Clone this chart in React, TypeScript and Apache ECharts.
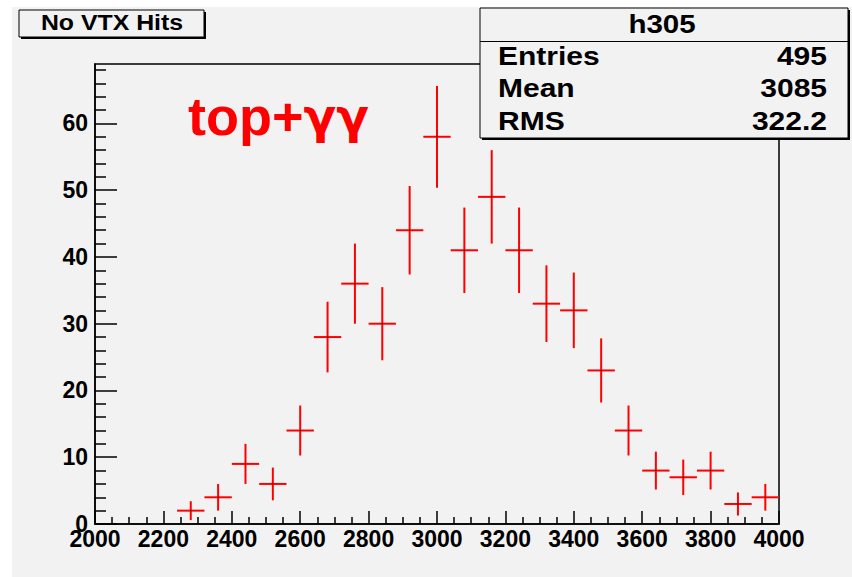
import React, { useEffect, useRef } from "react";
import * as echarts from "echarts";

// Histogram h305: bin centres, counts and their statistical errors
const binCenters = [
  2280, 2360, 2440, 2520, 2600, 2680, 2760, 2840, 2920, 3000, 3080,
  3160, 3240, 3320, 3400, 3480, 3560, 3640, 3720, 3800, 3880, 3960,
];
const counts = [2, 4, 9, 6, 14, 28, 36, 30, 44, 58, 41, 49, 41, 33, 32, 23, 14, 8, 7, 8, 3, 4];
const errors = [
  1.41, 2.0, 3.0, 2.45, 3.74, 5.29, 6.0, 5.48, 6.63, 7.62, 6.4,
  7.0, 6.4, 5.74, 5.66, 4.8, 3.74, 2.83, 2.65, 2.83, 1.73, 2.0,
];
const binWidth = 80;

const xMin = 2000;
const xMax = 4000;
const yMax = 68.9;
const yMajorTicks = [0, 10, 20, 30, 40, 50, 60];
const yMinorTicks = [2, 4, 6, 8, 12, 14, 16, 18, 22, 24, 26, 28, 32, 34, 36, 38, 42, 44, 46, 48, 52, 54, 56, 58, 62, 64, 66, 68];

const titleText = "No VTX Hits";
const statsTitle = "h305";
const statsLabels = ["Entries", "Mean", "RMS"];
const statsValues = ["495", "3085", "322.2"];
const annotationLatin = "top+";
const annotationGreek = "\u03b3\u03b3";

const FONT = "'Liberation Sans', Arial, sans-serif";
const CANVAS_GRAY = "#f2f2f2";

export default function App() {
  const ref = useRef<HTMLDivElement>(null);

  useEffect(() => {
    if (!ref.current) return;
    const chart = echarts.init(ref.current, undefined, { renderer: "svg" });

    const data = binCenters.map((x, i) => [x, counts[i], errors[i]]);

    const labelStyle = {
      color: "#000",
      fontFamily: FONT,
      fontWeight: "bold" as const,
      fontSize: 23,
    };

    const statsRowY = [56, 88, 121];

    const option: any = {
      animation: false,
      backgroundColor: "#ffffff",
      grid: {
        left: 95,
        right: 73,
        top: 64,
        bottom: 53,
        show: true,
        borderColor: "#000",
        borderWidth: 1.5,
        backgroundColor: "transparent",
      },
      xAxis: {
        type: "value",
        min: xMin,
        max: xMax,
        interval: 200,
        axisLine: { show: true, onZero: false, lineStyle: { color: "#000", width: 1.5 } },
        axisTick: { show: true, inside: true, length: 13, lineStyle: { color: "#000", width: 1.5 } },
        minorTick: { show: true, splitNumber: 4, length: 7, lineStyle: { color: "#000", width: 1.5 } },
        splitLine: { show: false },
        minorSplitLine: { show: false },
        axisLabel: { ...labelStyle, margin: 3, formatter: (v: number) => String(v) },
      },
      yAxis: [
        {
          type: "value",
          min: 0,
          max: yMax,
          position: "left",
          axisLine: { show: true, onZero: false, lineStyle: { color: "#000", width: 1.5 } },
          axisTick: {
            show: true,
            inside: true,
            length: 22,
            customValues: yMajorTicks,
            lineStyle: { color: "#000", width: 1.5 },
          },
          splitLine: { show: false },
          axisLabel: { ...labelStyle, margin: 7, customValues: yMajorTicks },
        },
        {
          type: "value",
          min: 0,
          max: yMax,
          position: "left",
          axisLine: { show: false },
          axisTick: {
            show: true,
            inside: true,
            length: 11,
            customValues: yMinorTicks,
            lineStyle: { color: "#000", width: 1.5 },
          },
          splitLine: { show: false },
          axisLabel: { show: false },
        },
      ],
      series: [
        {
          type: "custom",
          xAxisIndex: 0,
          yAxisIndex: 0,
          data,
          clip: false,
          z: 5,
          renderItem: (_params: any, api: any) => {
            const x = api.value(0);
            const y = api.value(1);
            const e = api.value(2);
            const top = api.coord([x, y + e]);
            const bot = api.coord([x, y - e]);
            const left = api.coord([x - binWidth / 2, y]);
            const right = api.coord([x + binWidth / 2, y]);
            const style = { stroke: "#ff0000", lineWidth: 2 };
            return {
              type: "group",
              children: [
                { type: "line", shape: { x1: top[0], y1: top[1], x2: bot[0], y2: bot[1] }, style },
                { type: "line", shape: { x1: left[0], y1: left[1], x2: right[0], y2: right[1] }, style },
                {
                  type: "rect",
                  shape: { x: top[0] - 0.5, y: left[1] - 0.5, width: 1, height: 1 },
                  style: { fill: "#000" },
                },
              ],
            };
          },
        },
      ],
      graphic: [
        // canvas background
        {
          type: "rect",
          z: -10,
          shape: { x: 12, y: 7, width: 852 - 12, height: 577 - 7 },
          style: { fill: CANVAS_GRAY },
        },
        // title box with drop shadow
        {
          type: "rect",
          z: 100,
          shape: { x: 21, y: 12, width: 185, height: 27 },
          style: { fill: "#000" },
        },
        {
          type: "rect",
          z: 101,
          shape: { x: 19, y: 10, width: 185, height: 27 },
          style: { fill: CANVAS_GRAY, stroke: "#000", lineWidth: 1 },
        },
        {
          type: "text",
          z: 102,
          x: 112,
          y: 23,
          scaleX: 1.13,
          style: {
            text: titleText,
            font: `bold 22px ${FONT}`,
            fill: "#000",
            align: "center",
            verticalAlign: "middle",
          },
        },
        // statistics box with drop shadow
        {
          type: "rect",
          z: 100,
          shape: { x: 482, y: 10, width: 368, height: 130 },
          style: { fill: "#000" },
        },
        {
          type: "rect",
          z: 101,
          shape: { x: 480, y: 8, width: 368, height: 130 },
          style: { fill: CANVAS_GRAY, stroke: "#000", lineWidth: 1 },
        },
        {
          type: "line",
          z: 102,
          shape: { x1: 480, y1: 41.5, x2: 848, y2: 41.5 },
          style: { stroke: "#000", lineWidth: 1 },
        },
        {
          type: "text",
          z: 102,
          x: 662,
          y: 24,
          scaleX: 1.18,
          style: {
            text: statsTitle,
            font: `bold 25px ${FONT}`,
            fill: "#000",
            align: "center",
            verticalAlign: "middle",
          },
        },
        ...statsLabels.map((label, i) => ({
          type: "text",
          z: 102,
          x: 498,
          y: statsRowY[i],
          scaleX: 1.2,
          style: {
            text: label,
            font: `bold 25px ${FONT}`,
            fill: "#000",
            align: "left",
            verticalAlign: "middle",
          },
        })),
        ...statsValues.map((value, i) => ({
          type: "text",
          z: 102,
          x: 827,
          y: statsRowY[i],
          scaleX: 1.2,
          style: {
            text: value,
            font: `bold 25px ${FONT}`,
            fill: "#000",
            align: "right",
            verticalAlign: "middle",
          },
        })),
        // process label
        {
          type: "text",
          z: 50,
          x: 188,
          y: 116,
          style: {
            text: `{a|${annotationLatin}}{g|${annotationGreek}}`,
            align: "left",
            verticalAlign: "middle",
            rich: {
              a: {
                fontFamily: FONT,
                fontWeight: "bold",
                fontSize: 54,
                fill: "#ff0000",
                color: "#ff0000",
              },
              g: {
                fontFamily: "'DejaVu Sans', sans-serif",
                fontWeight: "bold",
                fontSize: 48,
                fill: "#ff0000",
                color: "#ff0000",
              },
            },
          },
        },
      ],
    };

    chart.setOption(option);
    return () => chart.dispose();
  }, []);

  return (
    <div
      ref={ref}
      style={{ position: "absolute", left: 0, top: 0, width: 852, height: 577 }}
    />
  );
}
